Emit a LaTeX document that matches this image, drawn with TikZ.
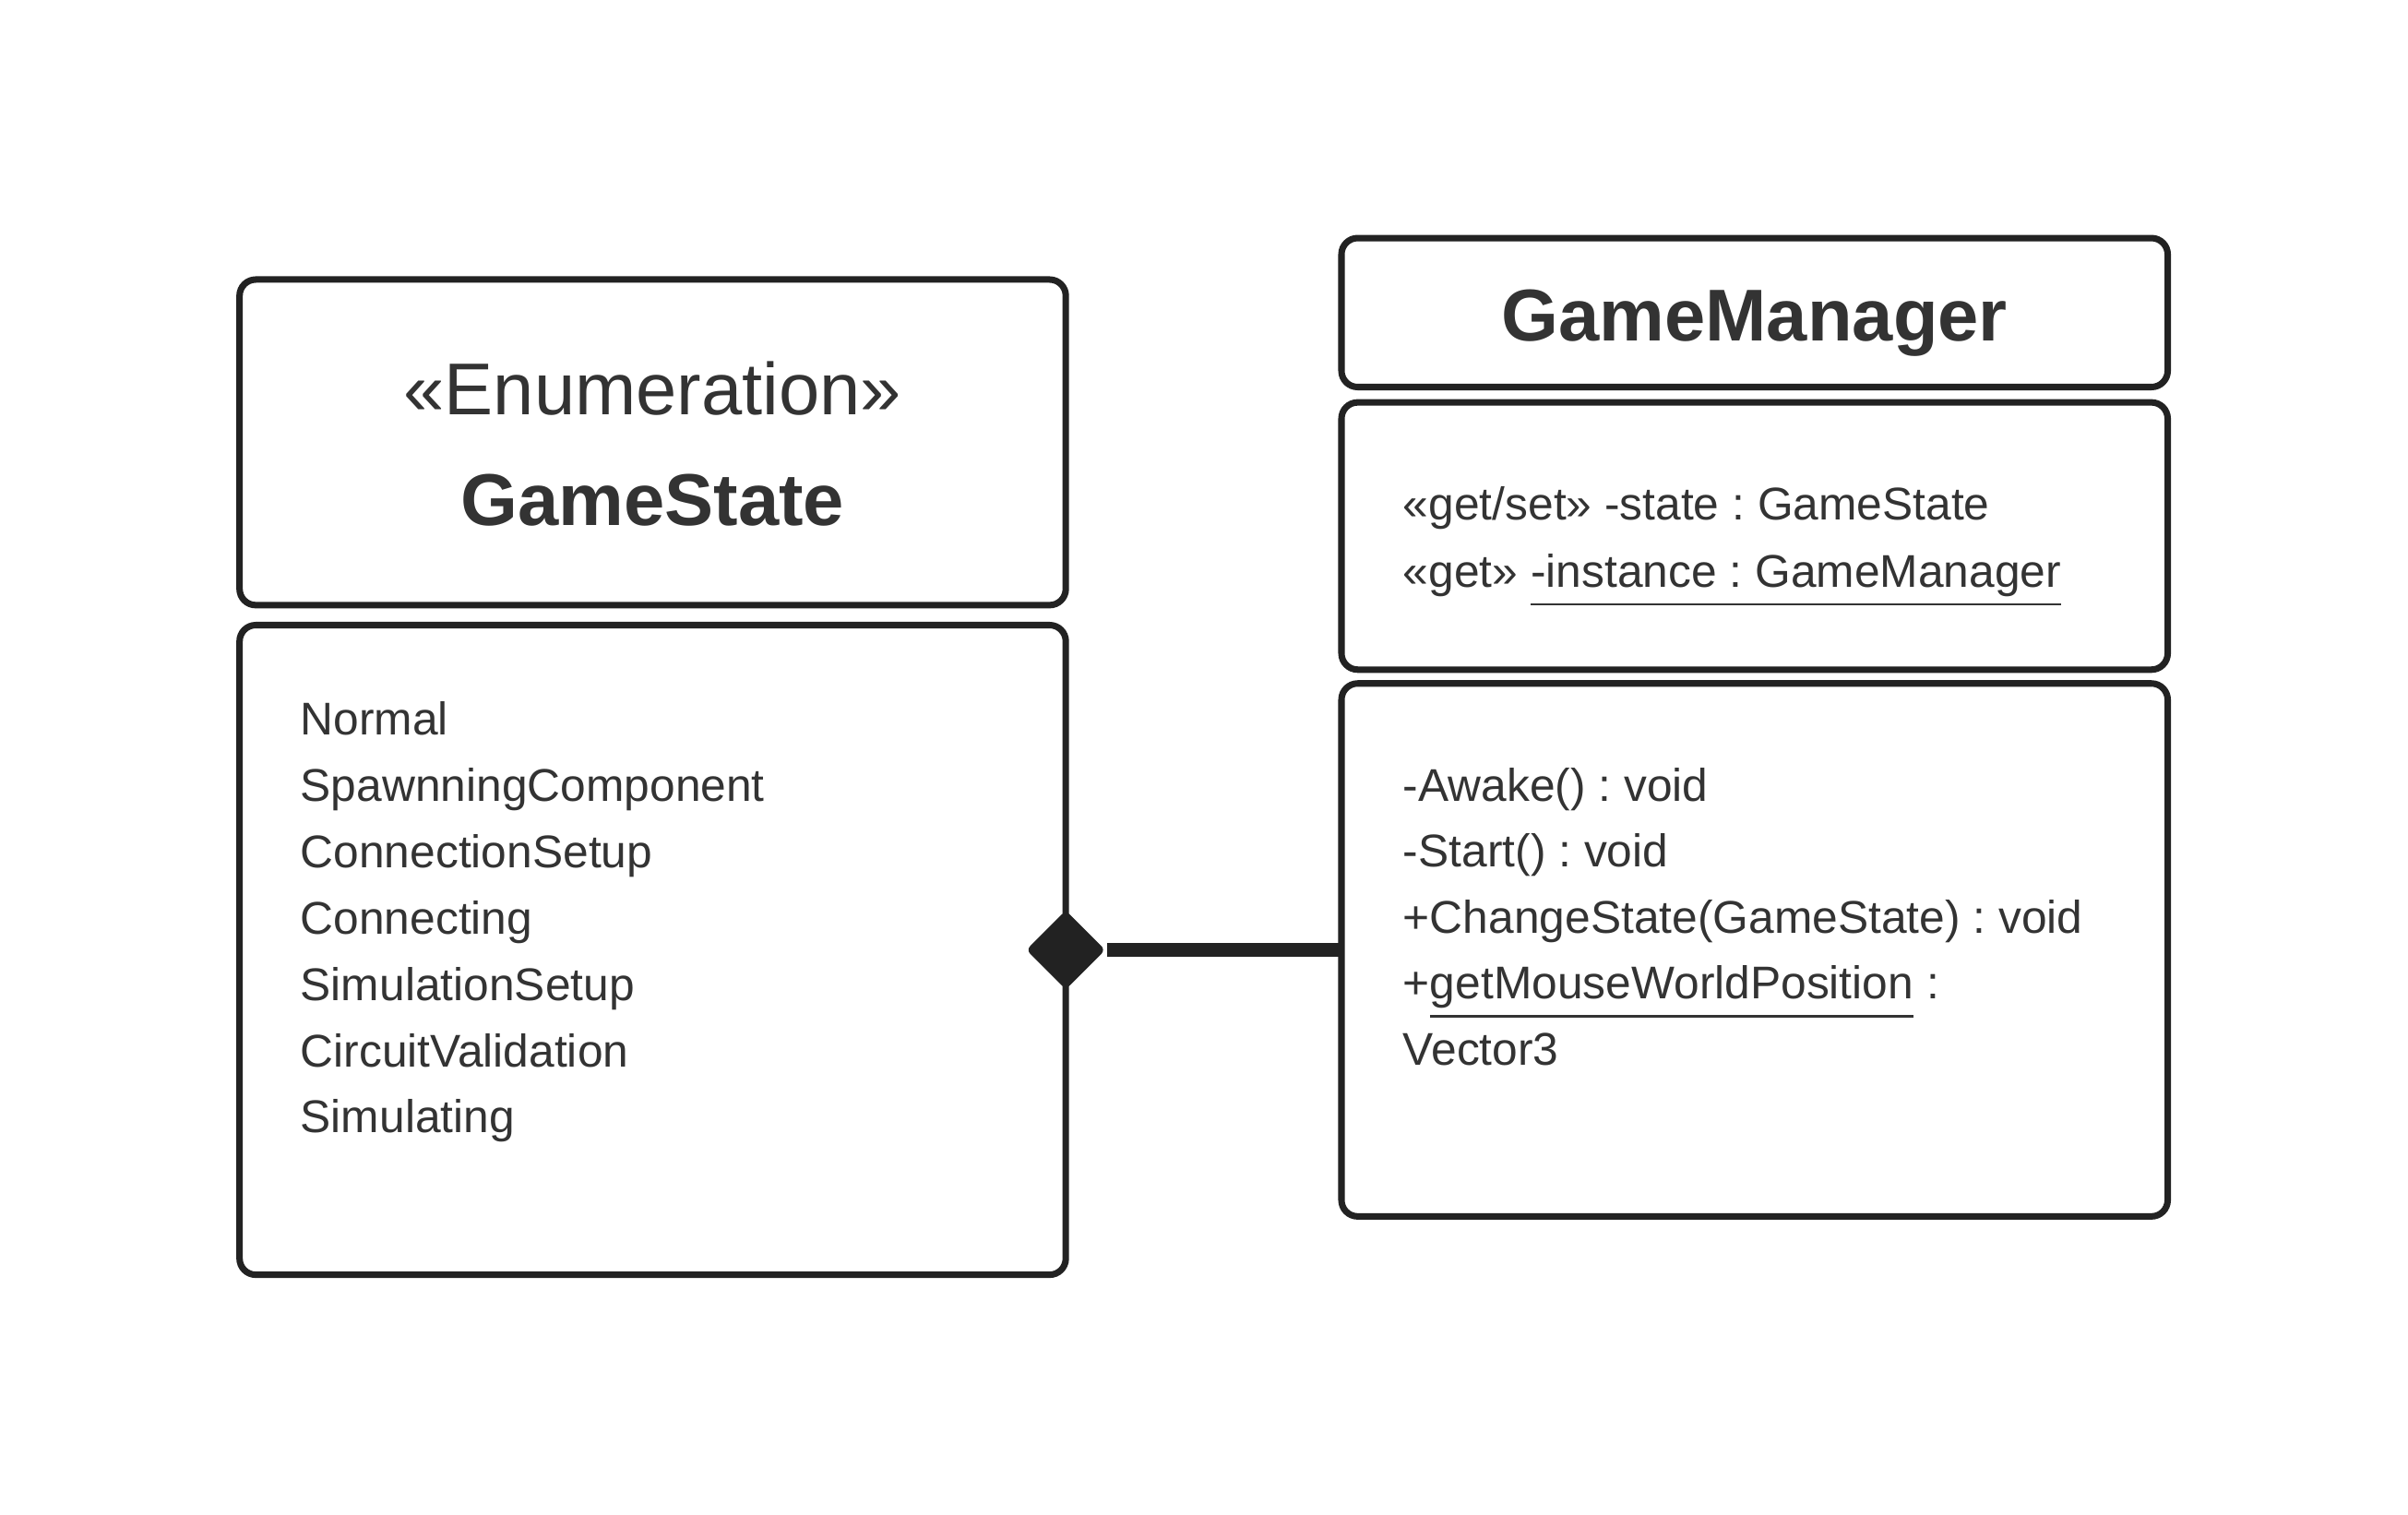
\documentclass[tikz,border=0pt]{standalone}
\usepackage{fontspec}
\setmainfont{Liberation Sans}
\frenchspacing
\usetikzlibrary{shapes.geometric}
\definecolor{umlline}{HTML}{222222}
\definecolor{umltext}{HTML}{333333}
\tikzset{
	umlbox/.style={draw=umlline, line width=1.2pt, rounded corners=3pt, minimum width=5.38cm, inner sep=0pt, outer sep=0pt},
	umltitle/.style={text=umltext, font=\fontsize{13.6}{16}\selectfont, anchor=base, inner sep=0pt},
	membertext/.style={text=umltext, font=\fontsize{8.5}{10}\selectfont, anchor=base west, inner sep=0pt},
}
\begin{document}
\begin{tikzpicture}
	\useasboundingbox (0,0) rectangle (15.68,-9.86);
	% GameState enumeration
	\node[umlbox, minimum height=2.12cm] (enumhead) at (4.25,-2.88) {};
	\node[umlbox, minimum height=4.23cm] (enumvals) at (4.25,-6.185) {};
	\node[umltitle] (enumtag) at (4.25,-2.70) {«Enumeration»};
	\node[umltitle, font=\fontsize{13.6}{16}\selectfont\bfseries] (enumname) at (4.25,-3.42) {GameState};
	\foreach \val [count=\i] in {Normal, SpawnningComponent, ConnectionSetup, Connecting, SimulationSetup, CircuitValidation, Simulating}
		\node[membertext] (val\i) at (1.95, {-4.785-0.432*(\i-1)}) {\val};
	% GameManager class
	\node[umlbox, minimum height=0.97cm] (mgrhead) at (11.425,-2.035) {};
	\node[umlbox, minimum height=1.74cm] (mgrattr) at (11.425,-3.49) {};
	\node[umlbox, minimum height=3.47cm] (mgrops) at (11.425,-6.185) {};
	\node[umltitle, font=\fontsize{13.6}{16}\selectfont\bfseries] (mgrname) at (11.425,-2.22) {GameManager};
	\node[membertext] (attr1) at (9.13,-3.385) {«get/set» -state : GameState};
	\node[membertext] (attr2) at (9.13,-3.825) {«get» \underline{-instance : GameManager}};
	\node[membertext] (op1) at (9.13,-5.215) {-Awake() : void};
	\node[membertext] (op2) at (9.13,-5.645) {-Start() : void};
	\node[membertext] (op3) at (9.13,-6.075) {+ChangeState(GameState) : void};
	\node[membertext] (op4) at (9.13,-6.505) {+\underline{getMouseWorldPosition} :};
	\node[membertext] (op5) at (9.13,-6.935) {Vector3};
	% composition
	\node[diamond, fill=umlline, minimum width=0.52cm, minimum height=0.52cm, inner sep=0pt, rounded corners=1pt] (comp) at (enumvals.east) {};
	\draw[umlline, line width=2.7pt] (comp.east) -- (mgrops.west);
\end{tikzpicture}
\end{document}
